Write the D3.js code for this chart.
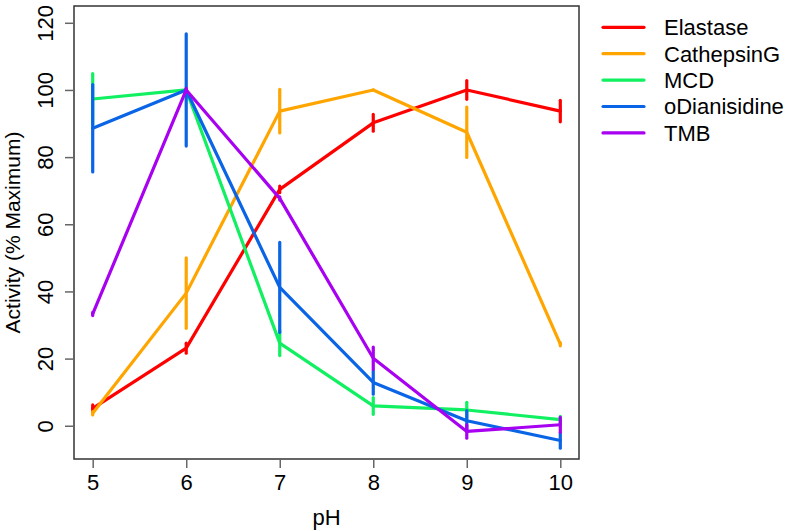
<!DOCTYPE html>
<html><head><meta charset="utf-8">
<script src="https://cdn.jsdelivr.net/npm/d3@7"></script>
<style>body{margin:0;background:#fff;} text{font-family:"Liberation Sans",Arial,sans-serif;}</style>
</head><body>
<svg id="c" width="788" height="531"></svg>
<script>
const phValues = [5, 6, 7, 8, 9, 10];
const seriesNames = ["Elastase", "CathepsinG", "MCD", "oDianisidine", "TMB"];
const seriesColors = ["#FF0000", "#FFA500", "#10F060", "#0A64E6", "#A800F0"];
const elastase     = [5.2, 23.1, 70.4, 90.2, 100, 93.7];
const elastaseErr  = [1.0, 1.5, 1.0, 2.5, 2.8, 3.2];
const cathepsinG   = [3.7, 39.5, 93.7, 100, 87.4, 24.3];
const cathepsinGErr= [0.5, 10.5, 6.5, 0, 7.5, 0.5];
const mcd          = [97.3, 100, 24.6, 5.9, 4.7, 1.8];
const mcdErr       = [7.6, 0.5, 3.7, 2.5, 2.3, 1.0];
const oDianisidine = [88.6, 100, 41.2, 12.9, 1.5, -4.4];
const oDianisidineErr = [13, 16.7, 13.4, 3.5, 3, 2.3];
const tmb          = [33.3, 100, 67.7, 20.1, -1.7, 0.3];
const tmbErr       = [0.5, 0.5, 0.5, 3.3, 2.0, 2.2];
const yTicks = [0, 20, 40, 60, 80, 100, 120];
const xTicks = [5, 6, 7, 8, 9, 10];

const seriesVals = [elastase, cathepsinG, mcd, oDianisidine, tmb];
const seriesErrs = [elastaseErr, cathepsinGErr, mcdErr, oDianisidineErr, tmbErr];

const svg = d3.select("#c");
const L = 74, R = 579, T = 6, B = 459;
const x = d3.scaleLinear().domain([4.8, 10.2]).range([L, R]);
const y = d3.scaleLinear().domain([-9.9, 125]).range([B, T]);
const fs = 22;

// series
const line = d3.line().x((d, i) => x(phValues[i])).y(d => y(d));
seriesVals.forEach((vals, s) => {
  const g = svg.append("g");
  g.append("path").datum(vals).attr("d", line)
    .attr("fill", "none").attr("stroke", seriesColors[s]).attr("stroke-width", 3.2)
    .attr("stroke-linejoin", "round").attr("stroke-linecap", "round");
  g.selectAll("line").data(vals).join("line")
    .attr("x1", (d, i) => x(phValues[i])).attr("x2", (d, i) => x(phValues[i]))
    .attr("y1", (d, i) => y(d - seriesErrs[s][i])).attr("y2", (d, i) => y(d + seriesErrs[s][i]))
    .attr("stroke", seriesColors[s]).attr("stroke-width", 3.2).attr("stroke-linecap", "round");
});

// box
svg.append("rect").attr("x", L).attr("y", T).attr("width", R - L).attr("height", B - T)
  .attr("fill", "none").attr("stroke", "#333").attr("stroke-width", 1.5);

// axes
const xAxis = d3.axisBottom(x).tickValues(xTicks).tickSize(9).tickPadding(6).tickFormat(d3.format("d"));
const gx = svg.append("g").attr("transform", `translate(0,${B})`).call(xAxis);
gx.select(".domain").attr("stroke", "#666").attr("stroke-width", 1.5).attr("d", `M${x(5)},0H${x(10)}`);
gx.selectAll(".tick line").attr("stroke", "#666").attr("stroke-width", 1.5);
gx.selectAll(".tick text").attr("fill", "#000").attr("font-size", fs).attr("dy", "0.71em")
  .attr("font-family", "Liberation Sans, Arial, sans-serif");

const yAxis = d3.axisLeft(y).tickValues(yTicks).tickSize(9).tickFormat(d3.format("d"));
const gy = svg.append("g").attr("transform", `translate(${L},0)`).call(yAxis);
gy.select(".domain").attr("stroke", "#666").attr("stroke-width", 1.5).attr("d", `M0,${y(0)}V${y(120)}`);
gy.selectAll(".tick line").attr("stroke", "#666").attr("stroke-width", 1.5);
gy.selectAll(".tick text").attr("fill", "#000").attr("font-size", fs)
  .attr("font-family", "Liberation Sans, Arial, sans-serif")
  .attr("x", null).attr("dy", null).attr("text-anchor", "middle")
  .attr("transform", "translate(-21,0) rotate(-90)");

// titles
svg.append("text").attr("x", (L + R) / 2).attr("y", 525).attr("text-anchor", "middle")
  .attr("font-size", fs).text("pH");
svg.append("text").attr("transform", `translate(20,${(T + B) / 2}) rotate(-90)`)
  .attr("text-anchor", "middle").attr("font-size", 21).text("Activity (% Maximum)");

// legend
const lg = svg.append("g");
seriesNames.forEach((n, i) => {
  const yy = 27.3 + i * 26.4;
  lg.append("line").attr("x1", 603).attr("x2", 644).attr("y1", yy).attr("y2", yy)
    .attr("stroke", seriesColors[i]).attr("stroke-width", 3.2).attr("stroke-linecap", "round");
  lg.append("text").attr("x", 664).attr("y", yy).attr("dy", "0.36em").attr("font-size", fs).text(n);
});
</script>
</body></html>
